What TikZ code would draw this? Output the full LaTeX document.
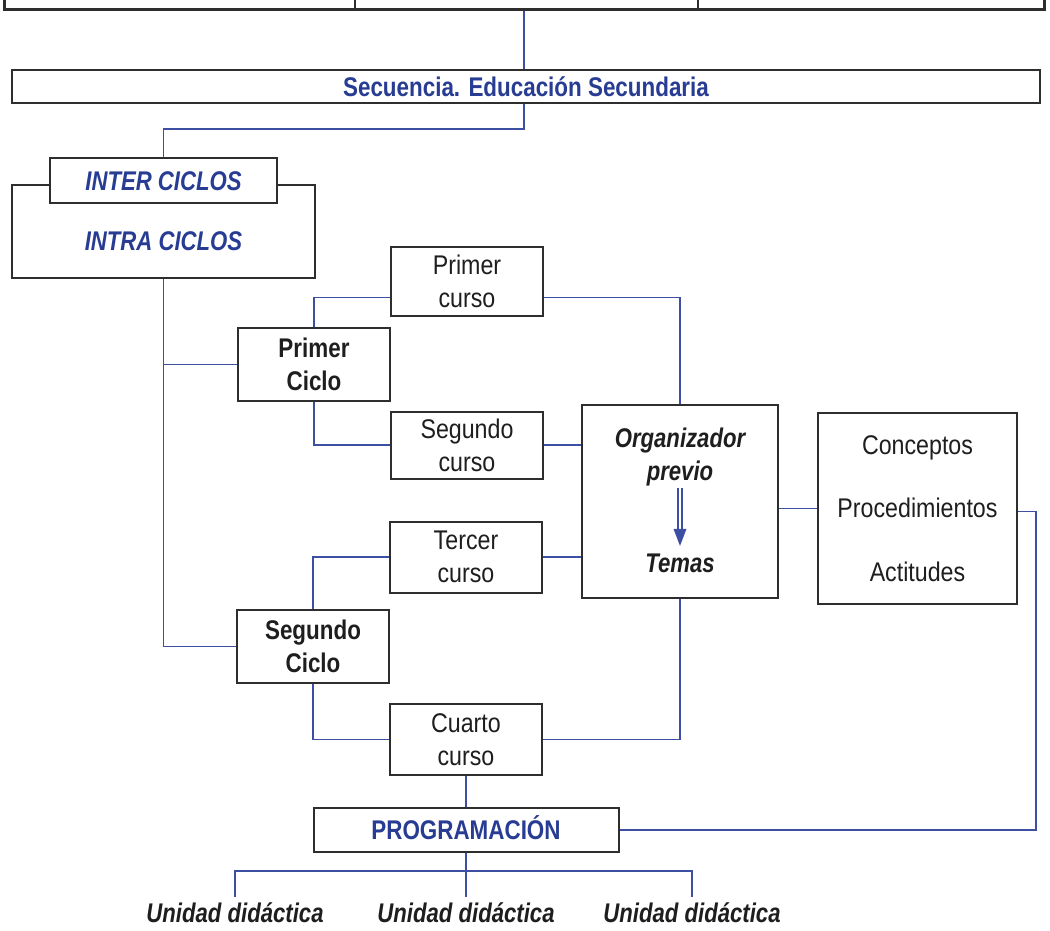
\documentclass[tikz,border=0pt]{standalone}
\usepackage{fontspec}
\setmainfont{Liberation Sans}[FakeStretch=0.86,BoldFeatures={FakeStretch=0.83},BoldItalicFeatures={FakeStretch=0.82}]
\usetikzlibrary{calc}
\definecolor{lineblue}{HTML}{3C4FA3}
\definecolor{textblue}{HTML}{273C92}
\definecolor{boxgray}{HTML}{2E2E2E}
\definecolor{ink}{HTML}{1E1E1E}
\begin{document}
\begin{tikzpicture}[x=0.5pt,y=-0.5pt,
  txt/.style={font=\fontsize{13.5}{16.5}\selectfont},
  box/.style={draw=boxgray, line width=1pt, fill=white, inner sep=0pt,
    align=center, text=ink, txt},
  onel/.style={text height=9.7pt, text depth=0pt},
  curso/.style={box, minimum width=76pt},
  ciclo/.style={box, minimum width=76pt, minimum height=36.5pt,
    font=\fontsize{13.5}{16.5}\selectfont\bfseries},
  bluehead/.style={text=textblue, font=\fontsize{13.5}{16.5}\selectfont\bfseries},
  blueit/.style={text=textblue, font=\fontsize{13.5}{16.5}\selectfont\bfseries\itshape},
  darkit/.style={text=ink, inner sep=0pt, align=center,
    font=\fontsize{13.5}{16.5}\selectfont\bfseries\itshape},
  link/.style={draw=lineblue, line width=0.9pt},
  thin/.style={draw=lineblue, line width=0.55pt}
]
\useasboundingbox (0,0) rectangle (1050,931);

% table above the sequence
\node[draw=boxgray, line width=1.5pt, minimum width=520pt, minimum height=40pt,
  inner sep=0pt, anchor=south west] (tbl) at (3,11) {};
\draw[boxgray, line width=1.2pt] (tbl.south -| 355,0) -- ++(0,-30)
  (tbl.south -| 698,0) -- ++(0,-30);

% boxes
\node[box, minimum width=514pt, minimum height=16.5pt, onel, bluehead] (sec) at (526,86.5)
  {Secuencia. Educación Secundaria};
\node[box, minimum width=151.5pt, minimum height=46.5pt] (intra) at (163.5,231.5) {};
\node[blueit, onel, inner sep=0pt] (intralbl) at (163.5,241) {INTRA CICLOS};
\node[box, minimum width=113.5pt, minimum height=22.5pt, onel, blueit] (inter) at (163.5,180.5)
  {INTER CICLOS};

\node[curso, minimum height=34.5pt] (pc1) at (467,281.5) {Primer\\curso};
\node[ciclo] (c1) at (314,364.5) {Primer\\Ciclo};
\node[curso, minimum height=33.5pt] (pc2) at (467,445) {Segundo\\curso};
\node[curso, minimum height=35.5pt] (pc3) at (466,557) {Tercer\\curso};
\node[ciclo] (c2) at (313,646.5) {Segundo\\Ciclo};
\node[curso, minimum height=35.5pt] (pc4) at (466,739.5) {Cuarto\\curso};

\node[box, minimum width=98pt, minimum height=96.5pt] (org) at (680,501.5) {};
\node[darkit] (orgtxt) at (680,457) {Organizador\\previo};
\node[darkit, onel] (temas) at (680,563) {Temas};

\node[box, minimum width=99.5pt, minimum height=95.5pt,
  font=\fontsize{13.5}{31.75}\selectfont] (cpa) at (917.5,508.5)
  {Conceptos\\Procedimientos\\Actitudes};

\node[box, minimum width=152.5pt, minimum height=22pt, onel, bluehead] (prog) at (466,830)
  {PROGRAMACIÓN};

\node[darkit, onel, anchor=north, inner sep=3pt] (ud1) at (235,897) {Unidad didáctica};
\node[darkit, onel, anchor=north, inner sep=3pt] (ud2) at (466,897) {Unidad didáctica};
\node[darkit, onel, anchor=north, inner sep=3pt] (ud3) at (692,897) {Unidad didáctica};

% connectors
\draw[link] (tbl.south -| 524,0) -- (sec.north -| 524,0);
\draw[link] (sec.south -| 524,0) -- ++(0,25) -| (inter.north);
\draw[link] (intra.south) |- (c2.west);
\draw[link] (intra.south |- c1.west) -- (c1.west);
\draw[link] (c1.north) |- ($(pc1.west)+(0,16)$);
\draw[link] (c1.south) |- (pc2.west);
\draw[link] (c2.north) |- (pc3.west);
\draw[link] (c2.south) |- (pc4.west);
\draw[link] ($(pc1.east)+(0,16)$) -| (org.north);
\draw[link] (pc2.east) -- (pc2.east -| org.west);
\draw[link] (pc3.east) -- (pc3.east -| org.west);
\draw[link] (pc4.east) -| (org.south);
\draw[link] (cpa.west -| org.east) -- (cpa.west);
\draw[link] ($(cpa.east)+(0,3)$) -- ++(18,0) |- (prog.east);
\draw[link] (pc4.south) -- (prog.north);
\draw[link] (prog.south) -- ++(0,18) coordinate (fork);
\draw[link] (fork) -| (ud1.north);
\draw[link] (fork) -| (ud3.north);
\draw[link] (fork) -- (ud2.north);

% double arrow from the organizer to the topics
\draw[thin] ($(orgtxt.south)+(-2,2)$) -- ($(temas.north)+(-2,-22)$);
\draw[thin] ($(orgtxt.south)+(2,2)$) -- ($(temas.north)+(2,-22)$);
\fill[lineblue] ($(temas.north)+(-6.5,-24)$) -- ($(temas.north)+(6.5,-24)$)
  -- ($(temas.north)+(0,-7)$) -- cycle;
\end{tikzpicture}
\end{document}
